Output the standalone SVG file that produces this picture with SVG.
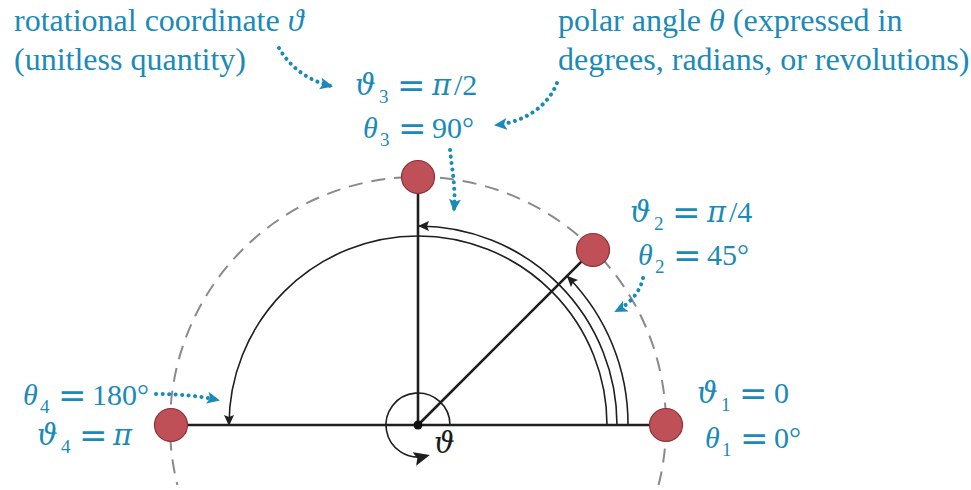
<svg xmlns="http://www.w3.org/2000/svg" width="971" height="490" viewBox="0 0 971 490">
<defs>
<style>
.t{font-family:"Liberation Serif","DejaVu Serif",serif;font-size:30px;fill:#1a8ab8}
.n{font-size:32px}
.i{font-style:italic}
.v{font-family:"DejaVu Serif","Liberation Serif",serif;font-size:29px}
.sb{font-size:19px}
.eq{font-family:"DejaVu Serif","Liberation Serif",serif;font-size:34px}
.blk{fill:#1a1a1a}
.dot{fill:none;stroke:#1a8ab8;stroke-width:4;stroke-linecap:round;stroke-dasharray:0.1 6.4}
.ln{stroke:#1f1f1f;stroke-width:2.6;fill:none}
.arc{stroke:#1f1f1f;stroke-width:1.6;fill:none}
.pt{fill:#bf5058;stroke:#8c3038;stroke-width:1.2}
</style>
<marker id="ta" markerUnits="userSpaceOnUse" markerWidth="16" markerHeight="14" refX="11" refY="6" orient="auto">
<path d="M0,0 L13,6 L0,12 L3,6 Z" fill="#1a8ab8"/>
</marker>
<marker id="ba" markerUnits="userSpaceOnUse" markerWidth="14" markerHeight="12" refX="10" refY="5" orient="auto">
<path d="M0,0 L11,5 L0,10 L2,5 Z" fill="#1f1f1f"/>
</marker>
<marker id="bb" markerUnits="userSpaceOnUse" markerWidth="18" markerHeight="16" refX="12" refY="7" orient="auto">
<path d="M0,0 L16,7 L0,14 L3,7 Z" fill="#1f1f1f"/>
</marker>
</defs>
<rect width="971" height="490" fill="#ffffff"/>

<g id="circle-guide">
<path d="M658.6,485 A248,248 0 1 0 177.4,485" fill="none" stroke="#8a8a8a" stroke-width="2" stroke-dasharray="14 9"/>
</g>

<g id="connectors">
<line class="ln" x1="171" y1="425" x2="666" y2="425"/>
<line class="ln" x1="418" y1="425" x2="418" y2="177"/>
<line class="ln" x1="418" y1="425" x2="593" y2="250"/>
<path class="arc" d="M607,425 A189,189 0 0 0 229,425" marker-end="url(#ba)"/>
<path class="arc" d="M617,425 A199,199 0 0 0 419,226" marker-end="url(#ba)"/>
<path class="arc" d="M628,425 A210,210 0 0 0 567.5,276.5" marker-end="url(#ba)"/>
<path class="arc" d="M450,425 A32,32 0 1 0 426,456" stroke-width="2.2" marker-end="url(#bb)"/>
<path class="dot" d="M279,48 C288,64 305,80 331,86" marker-end="url(#ta)"/>
<path class="dot" d="M557,83 C548,106 525,122 496,125" marker-end="url(#ta)"/>
<path class="dot" d="M450,150 C452,170 456,188 454,210" marker-end="url(#ta)"/>
<path class="dot" d="M643,278 C640,293 628,305 616,311" marker-end="url(#ta)"/>
<path class="dot" d="M156,394 C180,394 200,396 218,400" marker-end="url(#ta)"/>
</g>

<g id="center">
<circle cx="418" cy="425" r="4.5" fill="#111"/>
<text class="t blk i v" x="434" y="453">ϑ</text>
</g>

<g id="p1">
<circle class="pt" cx="666" cy="425" r="16.5"/>
<text class="t"><tspan class="i v" x="697" y="403">ϑ</tspan><tspan class="sb" x="721" y="411">1</tspan><tspan class="eq" x="739" y="405">=</tspan><tspan x="774" y="403">0</tspan></text>
<text class="t"><tspan class="i" x="705" y="448">θ</tspan><tspan class="sb" x="722" y="456">1</tspan><tspan class="eq" x="740" y="450">=</tspan><tspan x="774" y="448">0°</tspan></text>
</g>

<g id="p2">
<circle class="pt" cx="593" cy="250" r="16.5"/>
<text class="t"><tspan class="i v" x="630" y="222">ϑ</tspan><tspan class="sb" x="654" y="230">2</tspan><tspan class="eq" x="672" y="224">=</tspan><tspan class="i v" x="707" y="222">π</tspan><tspan x="729" y="222">/4</tspan></text>
<text class="t"><tspan class="i" x="638" y="265">θ</tspan><tspan class="sb" x="655" y="273">2</tspan><tspan class="eq" x="673" y="267">=</tspan><tspan x="707" y="265">45°</tspan></text>
</g>

<g id="p3">
<circle class="pt" cx="418" cy="177" r="16.5"/>
<text class="t"><tspan class="i v" x="355" y="95">ϑ</tspan><tspan class="sb" x="379" y="103">3</tspan><tspan class="eq" x="397" y="97">=</tspan><tspan class="i v" x="432" y="95">π</tspan><tspan x="454" y="95">/2</tspan></text>
<text class="t"><tspan class="i" x="363" y="138">θ</tspan><tspan class="sb" x="380" y="146">3</tspan><tspan class="eq" x="398" y="140">=</tspan><tspan x="432" y="138">90°</tspan></text>
</g>

<g id="p4">
<circle class="pt" cx="171" cy="425" r="16.5"/>
<text class="t"><tspan class="i" x="23" y="405">θ</tspan><tspan class="sb" x="40" y="413">4</tspan><tspan class="eq" x="58" y="407">=</tspan><tspan x="92" y="405">180°</tspan></text>
<text class="t"><tspan class="i v" x="37" y="445">ϑ</tspan><tspan class="sb" x="61" y="453">4</tspan><tspan class="eq" x="79" y="447">=</tspan><tspan class="i v" x="113" y="445">π</tspan></text>
</g>

<g id="note-rotational">
<text class="t n" x="14" y="31">rotational coordinate <tspan class="i">ϑ</tspan></text>
<text class="t n" x="14" y="70">(unitless quantity)</text>
</g>

<g id="note-polar">
<text class="t n" x="558" y="31">polar angle <tspan class="i">θ</tspan> (expressed in</text>
<text class="t n" x="558" y="70">degrees, radians, or revolutions)</text>
</g>
</svg>
